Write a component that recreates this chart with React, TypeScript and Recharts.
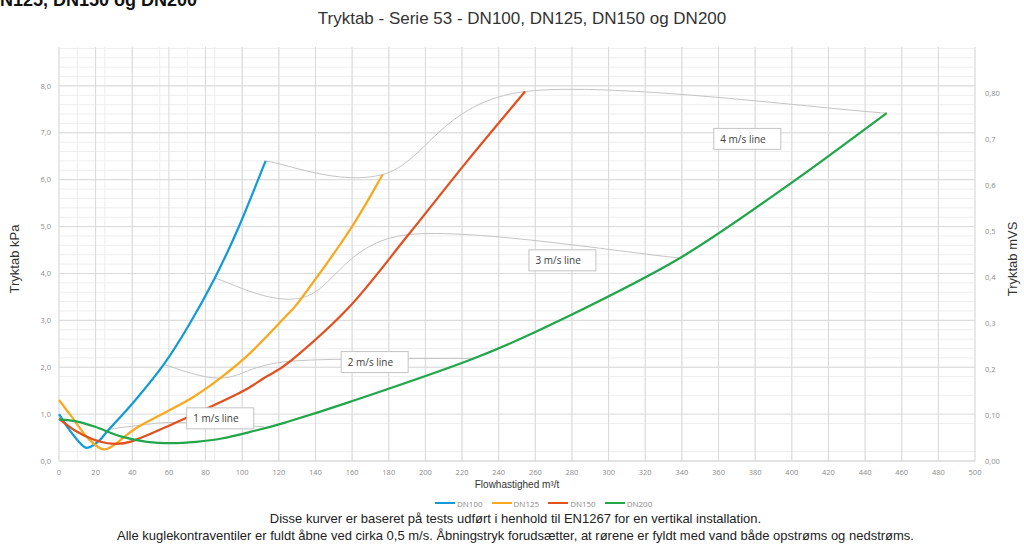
import { LineChart, Line, XAxis, YAxis, CartesianGrid, Legend, ReferenceDot } from 'recharts'

// pressure drop (kPa) against flow (m³/t)
const dn100 = [
  { q: 0, kpa: 1.0 }, { q: 5, kpa: 0.7 }, { q: 10, kpa: 0.45 }, { q: 15, kpa: 0.28 },
  { q: 21, kpa: 0.4 }, { q: 27, kpa: 0.66 }, { q: 41.5, kpa: 1.29 }, { q: 57, kpa: 2.05 },
  { q: 70.6, kpa: 2.88 }, { q: 85, kpa: 3.9 }, { q: 98, kpa: 4.98 }, { q: 112.8, kpa: 6.4 },
]
const dn125 = [
  { q: 0, kpa: 1.3 }, { q: 7, kpa: 0.94 }, { q: 15, kpa: 0.52 }, { q: 23.3, kpa: 0.26 },
  { q: 30, kpa: 0.34 }, { q: 43.3, kpa: 0.73 }, { q: 70.6, kpa: 1.3 }, { q: 88.4, kpa: 1.78 },
  { q: 104.3, kpa: 2.3 }, { q: 123.4, kpa: 3.07 }, { q: 132.5, kpa: 3.48 }, { q: 158.8, kpa: 4.93 },
  { q: 176.7, kpa: 6.11 },
]
const dn150 = [
  { q: 0, kpa: 0.9 }, { q: 8.7, kpa: 0.65 }, { q: 18, kpa: 0.47 }, { q: 28.7, kpa: 0.37 },
  { q: 39.7, kpa: 0.42 }, { q: 61.5, kpa: 0.78 }, { q: 97.9, kpa: 1.44 }, { q: 111.5, kpa: 1.76 },
  { q: 127, kpa: 2.15 }, { q: 158.8, kpa: 3.3 }, { q: 190.8, kpa: 4.83 }, { q: 222.5, kpa: 6.38 },
  { q: 254.4, kpa: 7.88 },
]
const dn200 = [
  { q: 0, kpa: 0.89 }, { q: 10, kpa: 0.84 }, { q: 19.7, kpa: 0.73 }, { q: 34.2, kpa: 0.52 },
  { q: 48, kpa: 0.41 }, { q: 61.5, kpa: 0.38 }, { q: 75, kpa: 0.41 }, { q: 88.8, kpa: 0.48 },
  { q: 104.3, kpa: 0.62 }, { q: 123.4, kpa: 0.82 }, { q: 158.8, kpa: 1.26 }, { q: 226, kpa: 2.18 },
  { q: 273.5, kpa: 3.0 }, { q: 339, kpa: 4.33 }, { q: 399, kpa: 5.91 }, { q: 451.8, kpa: 7.42 },
]

// constant velocity lines through the four curves
const line1 = [{ q: 27.5, kpa: 0.68 }, { q: 44.2, kpa: 0.76 }, { q: 63.6, kpa: 0.82 }, { q: 112, kpa: 0.73 }]
const line2 = [{ q: 57, kpa: 2.06 }, { q: 88.4, kpa: 1.77 }, { q: 127, kpa: 2.13 }, { q: 226, kpa: 2.19 }]
const line3 = [{ q: 85, kpa: 3.9 }, { q: 132.5, kpa: 3.48 }, { q: 190.8, kpa: 4.83 }, { q: 339, kpa: 4.33 }]
const line4 = [{ q: 112.8, kpa: 6.4 }, { q: 176.7, kpa: 6.11 }, { q: 254.4, kpa: 7.88 }, { q: 451.8, kpa: 7.42 }]

const lineLabels = [
  { q: 88, kpa: 0.91, text: '1 m/s line' },
  { q: 172.3, kpa: 2.11, text: '2 m/s line' },
  { q: 274.8, kpa: 4.28, text: '3 m/s line' },
  { q: 375.7, kpa: 6.87, text: '4 m/s line' },
]

const xTicks = [0, 20, 40, 60, 80, 100, 120, 140, 160, 180, 200, 220, 240, 260, 280, 300, 320, 340, 360, 380, 400, 420, 440, 460, 480, 500]
const kpaTicks = [0, 1, 2, 3, 4, 5, 6, 7, 8]
const kpaLabels = ['0,0', '1,0', '2,0', '3,0', '4,0', '5,0', '6,0', '7,0', '8,0']
const mvsTicks = [0, 0.1, 0.2, 0.3, 0.4, 0.5, 0.6, 0.7, 0.8]
const mvsLabels = ['0,00', '0,10', '0,2', '0,3', '0,4', '0,5', '0,6', '0,7', '0,80']

const minorX = Array.from({ length: 101 }, (_, i) => i * 5)
const minorY = Array.from({ length: 45 }, (_, i) => Math.round(i * 2) / 10)

const tickStyle = { fontSize: 7.5, fill: '#8c8c8c', fontFamily: '"Open Sans"' }
const sans = '"Liberation Sans", Arial, sans-serif'

// Excel style smoothing (Catmull-Rom as bezier)
const excelCurve = (context: any) => {
  let pts: number[][] = []
  return {
    areaStart() {},
    areaEnd() {},
    lineStart() { pts = [] },
    point(x: number, y: number) { pts.push([x, y]) },
    lineEnd() {
      if (!pts.length) return
      context.moveTo(pts[0][0], pts[0][1])
      for (let i = 0; i < pts.length - 1; i++) {
        const p0 = pts[i - 1] || pts[i]
        const p1 = pts[i]
        const p2 = pts[i + 1]
        const p3 = pts[i + 2] || p2
        context.bezierCurveTo(
          p1[0] + (p2[0] - p0[0]) / 6, p1[1] + (p2[1] - p0[1]) / 6,
          p2[0] - (p3[0] - p1[0]) / 6, p2[1] - (p3[1] - p1[1]) / 6,
          p2[0], p2[1],
        )
      }
    },
  }
}

const LabelBox = ({ cx, cy, text }: any) => (
  <g>
    <rect x={cx - 33.5} y={cy - 10.5} width={67} height={21} fill="#fff" stroke="#c4c4c4" />
    <text x={cx - 27} y={cy} dominantBaseline="central" fontSize={10} fontFamily='"Open Sans"' fill="#404040">
      {text}
    </text>
  </g>
)

const AxisTitle = ({ viewBox, value, side }: any) => {
  const cx = side === 'left' ? viewBox.x + 14 : viewBox.x + viewBox.width - 12
  const cy = viewBox.y + viewBox.height / 2 + 5
  return (
    <text x={cx} y={cy} transform={`rotate(-90 ${cx} ${cy})`} textAnchor="middle" dominantBaseline="central"
      fontSize={13} fontFamily={sans} fill="#333">
      {value}
    </text>
  )
}

const renderLegend = (props: any) => (
  <div style={{ display: 'flex', height: 16, alignItems: 'center', fontFamily: '"Open Sans"', fontSize: 8, color: '#8c8c8c' }}>
    {(props.payload || []).filter((p: any) => p.type !== 'none').map((p: any) => (
      <div key={p.value} style={{ display: 'flex', alignItems: 'center', marginRight: 9 }}>
        <span style={{ display: 'inline-block', width: 20, height: 2, background: p.color, marginRight: 2 }} />
        <span>{p.value}</span>
      </div>
    ))}
  </div>
)

const curve = excelCurve as any

export default function App() {
  return (
    <div style={{ position: 'absolute', left: 0, top: 0, width: 1024, height: 545, background: '#fff', overflow: 'hidden' }}>
      <LineChart width={1024} height={545} margin={{ top: 47, right: 0, bottom: 34, left: 0 }}>
        <CartesianGrid yAxisId="kpa" stroke="#eeeeee" verticalValues={minorX} horizontalValues={minorY} />
        <CartesianGrid yAxisId="kpa" stroke="#d9d9d9" verticalValues={xTicks} horizontalValues={kpaTicks} />
        <XAxis
          type="number"
          dataKey="q"
          domain={[0, 500]}
          ticks={xTicks}
          tickLine={false}
          tickSize={0}
          tickMargin={9}
          axisLine={{ stroke: '#d9d9d9' }}
          tick={tickStyle}
          height={34}
          label={{ value: 'Flowhastighed m³/t', position: 'insideBottom', offset: 7, fontSize: 10, fontFamily: sans, fill: '#333' }}
        />
        <YAxis
          yAxisId="kpa"
          type="number"
          domain={[0, 8.83]}
          ticks={kpaTicks}
          tickFormatter={(v: number, i: number) => kpaLabels[i]}
          axisLine={false}
          tickLine={false}
          tickSize={0}
          tickMargin={8}
          width={59}
          tick={tickStyle}
          label={{ value: 'Tryktab kPa', content: (p: any) => <AxisTitle {...p} value="Tryktab kPa" side="left" /> }}
        />
        <YAxis
          yAxisId="mvs"
          orientation="right"
          type="number"
          domain={[0, 0.9]}
          allowDataOverflow
          ticks={mvsTicks}
          tickFormatter={(v: number, i: number) => mvsLabels[i]}
          axisLine={false}
          tickLine={false}
          tickSize={0}
          tickMargin={10}
          width={49}
          tick={tickStyle}
          label={{ value: 'Tryktab mVS', content: (p: any) => <AxisTitle {...p} value="Tryktab mVS" side="right" /> }}
        />
        <Legend verticalAlign="bottom" content={renderLegend} wrapperStyle={{ left: 435, top: 495, width: 'auto' }} />

        <Line yAxisId="kpa" data={line1} dataKey="kpa" type={curve} stroke="#c4c4c4" strokeWidth={1} dot={false} activeDot={false} legendType="none" isAnimationActive={false} />
        <Line yAxisId="kpa" data={line2} dataKey="kpa" type={curve} stroke="#c4c4c4" strokeWidth={1} dot={false} activeDot={false} legendType="none" isAnimationActive={false} />
        <Line yAxisId="kpa" data={line3} dataKey="kpa" type={curve} stroke="#c4c4c4" strokeWidth={1} dot={false} activeDot={false} legendType="none" isAnimationActive={false} />
        <Line yAxisId="kpa" data={line4} dataKey="kpa" type={curve} stroke="#c4c4c4" strokeWidth={1} dot={false} activeDot={false} legendType="none" isAnimationActive={false} />

        <Line yAxisId="kpa" data={dn100} dataKey="kpa" name="DN100" type={curve} stroke="#149ad6" strokeWidth={2.25} dot={false} activeDot={false} isAnimationActive={false} />
        <Line yAxisId="kpa" data={dn125} dataKey="kpa" name="DN125" type={curve} stroke="#f8a91f" strokeWidth={2.25} dot={false} activeDot={false} isAnimationActive={false} />
        <Line yAxisId="kpa" data={dn150} dataKey="kpa" name="DN150" type={curve} stroke="#e1501f" strokeWidth={2.25} dot={false} activeDot={false} isAnimationActive={false} />
        <Line yAxisId="kpa" data={dn200} dataKey="kpa" name="DN200" type={curve} stroke="#21a64b" strokeWidth={2.25} dot={false} activeDot={false} isAnimationActive={false} />

        {lineLabels.map((l) => (
          <ReferenceDot key={l.text} yAxisId="kpa" x={l.q} y={l.kpa} r={0} ifOverflow="visible"
            shape={(p: any) => <LabelBox cx={p.cx} cy={p.cy} text={l.text} />} />
        ))}
      </LineChart>

      <svg width={1024} height={545} style={{ position: 'absolute', left: 0, top: 0, pointerEvents: 'none' }}>
        <text x={-13} y={6} fontSize={18} fontWeight={700} fontFamily={sans} fill="#111">DN125, DN150 og DN200</text>
        <text x={522} y={24} fontSize={17} textAnchor="middle" fontFamily={sans} fill="#333">
          Tryktab - Serie 53 - DN100, DN125, DN150 og DN200
        </text>
        <text x={515.5} y={523} fontSize={13} textAnchor="middle" fontFamily={sans} fill="#222">
          Disse kurver er baseret på tests udført i henhold til EN1267 for en vertikal installation.
        </text>
        <text x={515.5} y={540} fontSize={13} textAnchor="middle" fontFamily={sans} fill="#222">
          Alle kuglekontraventiler er fuldt åbne ved cirka 0,5 m/s. Åbningstryk forudsætter, at rørene er fyldt med vand både opstrøms og nedstrøms.
        </text>
      </svg>
    </div>
  )
}
